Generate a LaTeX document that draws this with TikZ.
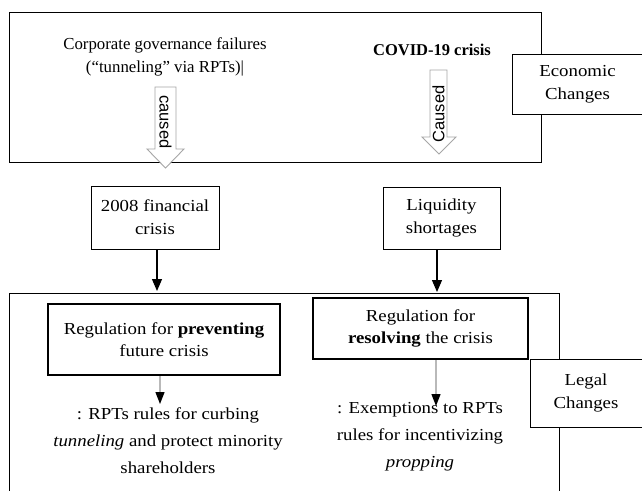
\documentclass[tikz,border=0pt]{standalone}
\usepackage{fontspec}
\setmainfont[FakeStretch=1.12]{Liberation Serif}
\newfontfamily\timesf{Liberation Serif}
\newfontfamily\arialf{Liberation Sans}
\usetikzlibrary{arrows.meta}
\begin{document}
\begin{tikzpicture}[x=1pt,y=-1pt,
  frame/.style={draw=black,line width=1pt},
  plainbox/.style={draw=black,line width=0.9pt,fill=white,align=center,inner sep=0pt,
    font=\fontsize{16.8}{23}\selectfont},
  thickbox/.style={draw=black,line width=2.2pt,fill=white,align=center,inner sep=0pt,
    font=\fontsize{16.8}{22}\selectfont},
  sidebox/.style={draw=black,line width=0.9pt,fill=white,align=center,inner sep=0pt,
    font=\fontsize{16.8}{23}\selectfont},
  toptext/.style={align=center,inner sep=0pt,font=\timesf\fontsize{16.8}{23}\selectfont},
  bottext/.style={align=center,inner sep=0pt,font=\fontsize{16.8}{27}\selectfont},
  blockarrow/.style={draw=gray!70,line width=0.9pt,fill=white,line join=miter},
  arrowlabel/.style={inner sep=0pt,font=\arialf\fontsize{16.5}{18}\selectfont},
  blackarrow/.style={draw=black,line width=1.2pt,-{Triangle[length=12pt,width=10pt]}},
  grayarrow/.style={draw=gray!55,line width=1.3pt,-{Triangle[length=12pt,width=9pt,color=black]}}
]
\useasboundingbox (0,0) rectangle (642,490);
\clip (0,0) rectangle (642,490);
\fill[white] (0,0) rectangle (642,490);

% economic frame
\draw[frame] (9,12) rectangle (541,162);
% legal frame
\draw[frame] (9,293) rectangle (559,520);

% top texts
\node[toptext] (corp) at (165,56.5) {Corporate governance failures\\(“tunneling” via RPTs)|};
\node[toptext,font=\timesf\bfseries\fontsize{16.5}{23}\selectfont] (covid) at (432,50) {COVID-19 crisis};

% block arrows
\draw[blockarrow] (155,87) -- (176,87) -- (176,149) -- (184,149) -- (165.5,168) -- (147,149) -- (155,149) -- cycle;
\node[arrowlabel,rotate=-90] (caused1) at (165.5,122) {caused};
\draw[blockarrow] (430,70) -- (447,70) -- (447,137) -- (456,137) -- (439,154) -- (422,137) -- (430,137) -- cycle;
\node[arrowlabel,rotate=90] (caused2) at (438.5,114) {Caused};

% side labels
\node[sidebox,minimum width=131pt,minimum height=60pt] (econ) at (577.5,84) {Economic\\Changes};

% middle boxes
\node[plainbox,minimum width=128pt,minimum height=63pt] (fin) at (155,217.5) {2008 financial\\crisis};
\node[plainbox,minimum width=117pt,minimum height=62pt] (liq) at (441.5,218) {Liquidity\\shortages};

\coordinate (t1) at (157,291);
\coordinate (t2) at (437,292);
\draw[blackarrow] (fin.south -| t1) -- (t1);
\draw[blackarrow] (liq.south -| t2) -- (t2);

% regulation boxes
\node[thickbox,minimum width=232pt,minimum height=71pt] (prev) at (164,339.5) {Regulation for \textbf{preventing}\\future crisis};
\node[thickbox,minimum width=215pt,minimum height=61pt] (res) at (420.5,328.5) {Regulation for\\\textbf{resolving} the crisis};

\node[sidebox,minimum width=112pt,minimum height=68pt] (legal) at (586,393) {Legal\\Changes};

\coordinate (e1) at (160,404);
\coordinate (e2) at (436,406);
\draw[grayarrow] (prev.south -| e1) -- (e1);
\draw[grayarrow] (res.south -| e2) -- (e2);

\node[bottext] (rule1) at (168,441) {: RPTs rules for curbing\\\textit{tunneling} and protect minority\\shareholders};
\node[bottext] (rule2) at (420,437) {: Exemptions to RPTs\\rules for incentivizing\\\textit{propping}};
\end{tikzpicture}
\end{document}
